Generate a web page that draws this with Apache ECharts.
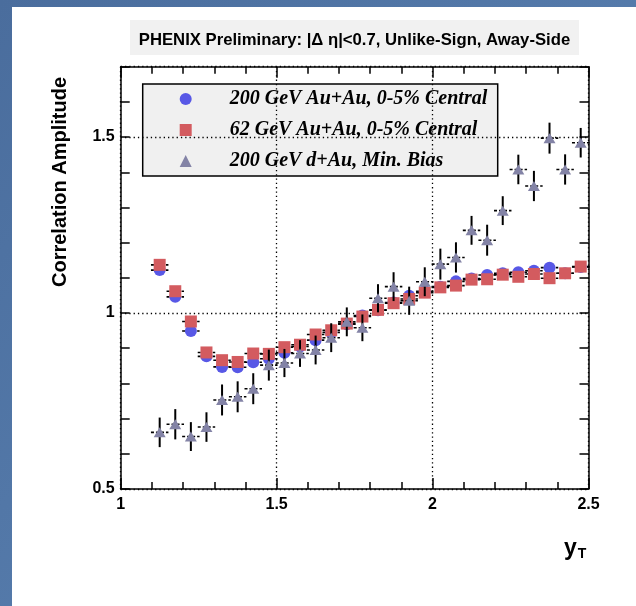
<!DOCTYPE html>
<html><head><meta charset="utf-8">
<script src="https://cdn.jsdelivr.net/npm/echarts@6/dist/echarts.min.js"></script>
<style>html,body{margin:0;padding:0;background:#fff}#c{width:636px;height:606px}</style>
</head><body><div id="c"></div>
<script>
// ---- data ----
const xBins = [1.125,1.175,1.225,1.275,1.325,1.375,1.425,1.475,1.525,1.575,1.625,1.675,1.725,1.775,
               1.825,1.875,1.925,1.975,2.025,2.075,2.125,2.175,2.225,2.275,2.325,2.375,2.425,2.475];
const auau200 = [1.122,1.046,0.949,0.877,0.847,0.846,0.860,0.870,0.887,0.905,0.923,0.945,0.968,0.993,
                 1.008,1.030,1.049,1.062,1.075,1.090,1.098,1.108,1.113,1.116,1.120,1.129,1.113,1.131];
const auau62  = [1.137,1.062,0.976,0.888,0.866,0.861,0.885,0.884,0.903,0.910,0.939,0.951,0.970,0.990,
                 1.009,1.028,1.040,1.058,1.073,1.078,1.095,1.096,1.109,1.103,1.111,1.099,1.113,1.132];
const dau200  = [0.661,0.684,0.649,0.676,0.753,0.762,0.785,0.852,0.858,0.885,0.895,0.930,0.975,0.958,
                 1.042,1.075,1.035,1.089,1.139,1.158,1.235,1.207,1.291,1.408,1.361,1.497,1.408,1.484];
const errDAu  = [0.042,0.043,0.041,0.042,0.044,0.044,0.044,0.044,0.040,0.038,0.041,0.041,0.041,0.038,
                 0.040,0.041,0.040,0.041,0.044,0.043,0.041,0.044,0.041,0.042,0.043,0.044,0.043,0.042];
const errAuAu = 0.010;
const xHalfWidth = 0.028;
const seriesNames = ['200 GeV Au+Au, 0-5% Central', '62 GeV Au+Au, 0-5% Central', '200 GeV d+Au, Min. Bias'];
const yLabelValues = [0.5, 1, 1.5];

// ---- chart ----
const chart = echarts.init(document.getElementById('c'), null, {renderer: 'canvas'});
const SANS = '"Liberation Sans", Arial, Helvetica, sans-serif';
const SERIF = '"Liberation Serif", "Times New Roman", serif';

function pts(arr) { return xBins.map((x, i) => [x, arr[i]]); }
function errPts(arr, err) { return xBins.map((x, i) => [x, arr[i], Array.isArray(err) ? err[i] : err, xHalfWidth]); }

function errRender(params, api) {
  const x = api.value(0), y = api.value(1), ey = api.value(2), ex = api.value(3);
  const l = api.coord([x - ex, y]), r = api.coord([x + ex, y]);
  const t = api.coord([x, y + ey]), b = api.coord([x, y - ey]);
  return {type: 'group', children: [
    {type: 'line', shape: {x1: l[0], y1: l[1], x2: r[0], y2: r[1]},
     style: {stroke: '#000', lineWidth: 1.6, lineDash: [3, 2]}},
    {type: 'line', shape: {x1: t[0], y1: t[1], x2: b[0], y2: b[1]},
     style: {stroke: '#000', lineWidth: 2}}
  ]};
}

const axisLineStyle = {color: '#000', width: 1.5};
const commonX = {type: 'value', min: 1, max: 2.5, interval: 0.5};
const commonY = {type: 'value', min: 0.5, max: 1.7, interval: 0.1};

const option = {
  animation: false,
  backgroundColor: new echarts.graphic.LinearGradient(0, 0, 1, 1, [
    {offset: 0, color: '#4a6d9d'}, {offset: 1, color: '#5e86b6'}]),
  title: {
    text: 'PHENIX Preliminary: |\u0394 \u03b7|<0.7, Unlike-Sign, Away-Side',
    left: 354.5, top: 32, textAlign: 'center', padding: 0,
    textStyle: {fontFamily: SANS, fontWeight: 'bold', fontSize: 16.7, lineHeight: 17, color: '#000'}
  },
  grid: {left: 120.7, right: 47.5, top: 66.7, bottom: 117, containLabel: false},
  legend: {
    data: seriesNames, orient: 'vertical', left: 179.7, top: 89, padding: 0,
    itemWidth: 12, itemHeight: 12, itemGap: 11, selectedMode: false,
    textStyle: {fontFamily: SERIF, fontStyle: 'italic', fontWeight: 'bold', fontSize: 20,
                lineHeight: 20, color: '#000', padding: [0, 0, 0, 33]}
  },
  xAxis: [
    Object.assign({}, commonX, {
      position: 'bottom',
      axisLine: {show: true, onZero: false, lineStyle: axisLineStyle},
      axisTick: {show: true, inside: true, length: 11, lineStyle: axisLineStyle},
      minorTick: {show: true, splitNumber: 5, length: 7, lineStyle: axisLineStyle},
      axisLabel: {show: true, margin: 8, color: '#000', fontFamily: SANS, fontWeight: 'bold', fontSize: 16},
      splitLine: {show: true, lineStyle: {color: '#000', width: 1.3, type: [1.3, 3]}}
    }),
    Object.assign({}, commonX, {
      position: 'top',
      axisLine: {show: true, onZero: false, lineStyle: axisLineStyle},
      axisTick: {show: true, inside: true, length: 11, lineStyle: axisLineStyle},
      minorTick: {show: true, splitNumber: 5, length: 7, lineStyle: axisLineStyle},
      axisLabel: {show: false}, splitLine: {show: false}
    })
  ],
  yAxis: [
    Object.assign({}, commonY, {
      position: 'left',
      axisLine: {show: true, onZero: false, lineStyle: axisLineStyle},
      axisTick: {show: true, inside: true, length: 9, lineStyle: axisLineStyle},
      axisLabel: {show: true, margin: 6, color: '#000', fontFamily: SANS, fontWeight: 'bold', fontSize: 16,
        formatter: v => yLabelValues.some(t => Math.abs(t - v) < 1e-6) ? String(+v.toFixed(2)) : ''},
      splitLine: {show: false}
    }),
    Object.assign({}, commonY, {
      position: 'right',
      axisLine: {show: true, onZero: false, lineStyle: axisLineStyle},
      axisTick: {show: true, inside: true, length: 9, lineStyle: axisLineStyle},
      axisLabel: {show: false}, splitLine: {show: false}
    }),
    {type: 'value', min: 0.5, max: 1.7, interval: 0.5, position: 'left',
     axisLine: {show: false}, axisTick: {show: false}, axisLabel: {show: false},
     splitLine: {show: true, lineStyle: {color: '#000', width: 1.3, type: [1.3, 3]}}}
  ],
  graphic: [
    {type: 'rect', left: 12, top: 7, shape: {width: 624, height: 599}, style: {fill: '#ffffff'}, z: -10, silent: true},
    {type: 'rect', left: 130, top: 20, shape: {width: 449, height: 35}, style: {fill: '#f1f1f1'}, z: -9, silent: true},
    {type: 'rect', shape: {x: 142.7, y: 84, width: 355, height: 92},
     style: {fill: '#f0f0f0', stroke: '#000', lineWidth: 1.5}, z: 0, silent: true},
    {type: 'text', x: 60, y: 182, rotation: Math.PI / 2, silent: true, z: 10,
     style: {text: 'Correlation Amplitude', fill: '#000', font: 'bold 20px ' + SANS,
             align: 'center', verticalAlign: 'middle'}},
    {type: 'text', x: 564, y: 549, silent: true, z: 10,
     style: {text: '{a|y}{b|T}', fill: '#000', align: 'left', verticalAlign: 'middle',
             rich: {a: {font: 'bold 23px ' + SANS, fill: '#000'},
                    b: {font: 'bold 14px ' + SANS, fill: '#000', padding: [11, 0, 0, 1]}}}}
  ],
  series: [
    {type: 'custom', name: 'errA', renderItem: errRender, data: errPts(auau200, errAuAu),
     encode: {x: 0, y: 1}, z: 3, silent: true},
    {type: 'scatter', name: seriesNames[0], data: pts(auau200), symbol: 'circle', symbolSize: 12,
     itemStyle: {color: '#5858e6', opacity: 1}, z: 4, silent: true, emphasis: {disabled: true}},
    {type: 'custom', name: 'errB', renderItem: errRender, data: errPts(auau62, errAuAu),
     encode: {x: 0, y: 1}, z: 5, silent: true},
    {type: 'scatter', name: seriesNames[1], data: pts(auau62), symbol: 'rect', symbolSize: 12,
     itemStyle: {color: '#d35b5f', opacity: 1}, z: 6, silent: true, emphasis: {disabled: true}},
    {type: 'custom', name: 'errC', renderItem: errRender, data: errPts(dau200, errDAu),
     encode: {x: 0, y: 1}, z: 7, silent: true},
    {type: 'scatter', name: seriesNames[2], data: pts(dau200), symbol: 'triangle', symbolSize: [12, 10],
     itemStyle: {color: '#8383a6', opacity: 1}, z: 8, silent: true, emphasis: {disabled: true}}
  ]
};
chart.setOption(option);
</script>
</body></html>
